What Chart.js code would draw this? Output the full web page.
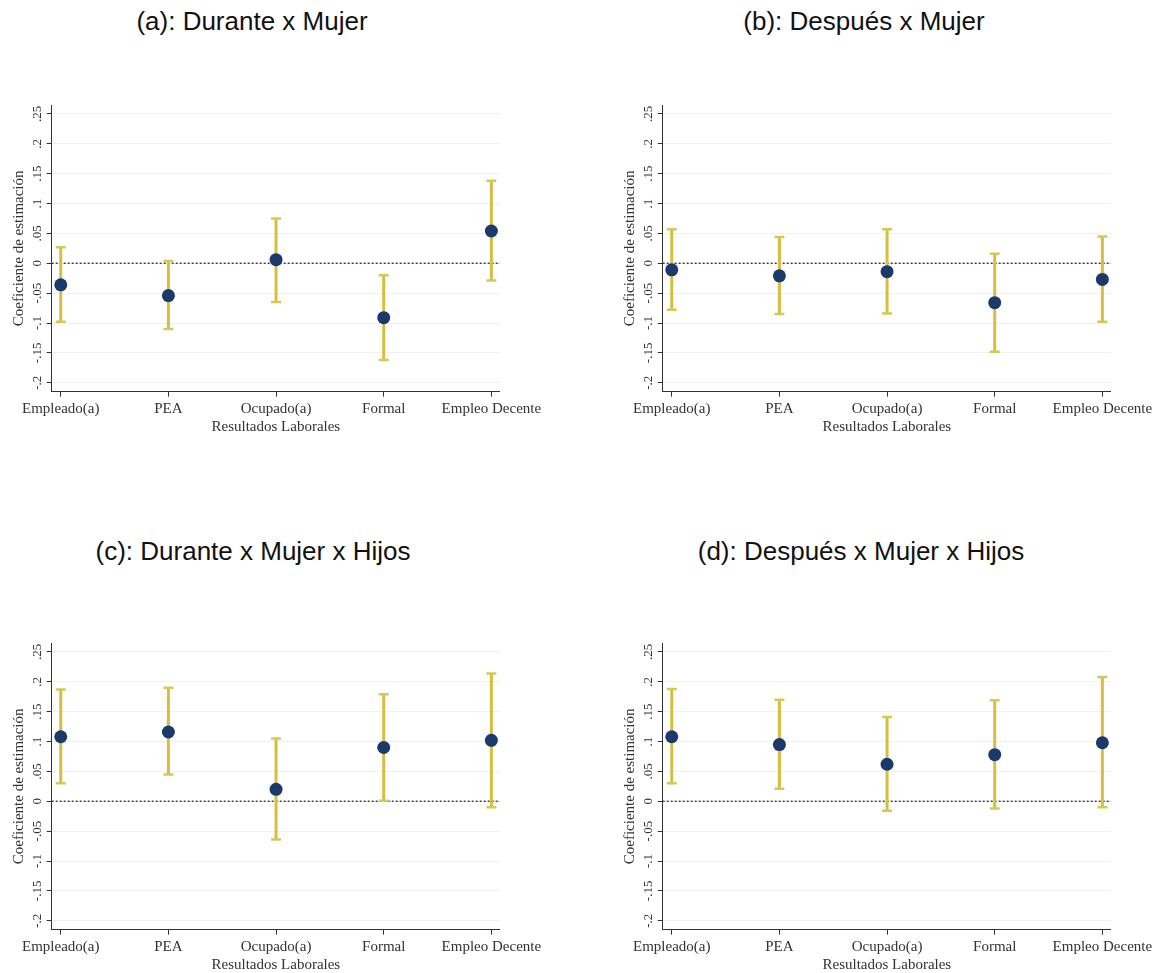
<!DOCTYPE html>
<html>
<head>
<meta charset="utf-8">
<script src="https://cdn.jsdelivr.net/npm/chart.js@4"></script>
<style>
  body { margin: 0; width: 1156px; height: 973px; background: #fff; position: relative; overflow: hidden; }
  .title { position: absolute; font-family: "Liberation Sans", Arial, sans-serif; font-size: 26px; color: #111; white-space: nowrap; transform: translateX(-50%); }
  .panel { position: absolute; width: 545px; height: 350px; }
</style>
</head>
<body>
<div class="title" style="left:252px; top:6px">(a): Durante x Mujer</div>
<div class="title" style="left:864px; top:6px">(b): Después x Mujer</div>
<div class="title" style="left:253px; top:536px">(c): Durante x Mujer x Hijos</div>
<div class="title" style="left:861px; top:536px">(d): Después x Mujer x Hijos</div>

<div class="panel" style="left:0px; top:90px"><canvas id="chartA"></canvas></div>
<div class="panel" style="left:611px; top:90px"><canvas id="chartB"></canvas></div>
<div class="panel" style="left:0px; top:628px"><canvas id="chartC"></canvas></div>
<div class="panel" style="left:611px; top:628px"><canvas id="chartD"></canvas></div>

<script>
// labour outcomes on the x axis
const categories = ['Empleado(a)', 'PEA', 'Ocupado(a)', 'Formal', 'Empleo Decente'];
const yTickValues = [-0.2, -0.15, -0.1, -0.05, 0, 0.05, 0.1, 0.15, 0.2, 0.25];
const yTickLabels = ['-.2', '-.15', '-.1', '-.05', '0', '.05', '.1', '.15', '.2', '.25'];

// (a) Durante x Mujer
const coefA = [-0.036, -0.054, 0.006, -0.091, 0.054];
const lowA  = [-0.098, -0.110, -0.065, -0.162, -0.029];
const highA = [0.027, 0.004, 0.075, -0.020, 0.138];

// (b) Despues x Mujer
const coefB = [-0.011, -0.021, -0.014, -0.066, -0.027];
const lowB  = [-0.078, -0.085, -0.084, -0.148, -0.098];
const highB = [0.057, 0.044, 0.057, 0.016, 0.045];

// (c) Durante x Mujer x Hijos
const coefC = [0.108, 0.116, 0.020, 0.090, 0.102];
const lowC  = [0.030, 0.045, -0.064, 0.001, -0.010];
const highC = [0.187, 0.190, 0.105, 0.179, 0.214];

// (d) Despues x Mujer x Hijos
const coefD = [0.108, 0.095, 0.062, 0.078, 0.098];
const lowD  = [0.030, 0.021, -0.016, -0.012, -0.010];
const highD = [0.188, 0.170, 0.141, 0.169, 0.208];

const serif = '"Liberation Serif", "Times New Roman", serif';
const axisColor = '#333';

// draws the confidence intervals, the dotted zero line and the rotated y labels
const ciPlugin = {
    id: 'ciPlugin',
    beforeDatasetsDraw(chart, args, opts) {
        const ctx = chart.ctx;
        const xs = chart.scales.x;
        const ys = chart.scales.y;
        const area = chart.chartArea;

        // zero line
        ctx.save();
        ctx.strokeStyle = '#444';
        ctx.lineWidth = 1.5;
        ctx.setLineDash([2, 2]);
        ctx.beginPath();
        const y0 = ys.getPixelForValue(0);
        ctx.moveTo(area.left, y0);
        ctx.lineTo(area.right, y0);
        ctx.stroke();
        ctx.restore();

        ctx.save();
        for (let i = 0; i < categories.length; i++) {
            const x = xs.getPixelForValue(i);
            const yLo = ys.getPixelForValue(opts.low[i]);
            const yHi = ys.getPixelForValue(opts.high[i]);
            ctx.strokeStyle = '#d8bd3e';
            ctx.lineWidth = 3;
            ctx.beginPath();
            ctx.moveTo(x, yLo);
            ctx.lineTo(x, yHi);
            ctx.stroke();
            ctx.strokeStyle = '#d3c957';
            ctx.lineWidth = 2.5;
            ctx.beginPath();
            ctx.moveTo(x - 5, yLo);
            ctx.lineTo(x + 5, yLo);
            ctx.moveTo(x - 5, yHi);
            ctx.lineTo(x + 5, yHi);
            ctx.stroke();
        }
        ctx.restore();
    },
    afterDraw(chart) {
        const ctx = chart.ctx;
        const ys = chart.scales.y;
        ctx.save();
        ctx.fillStyle = axisColor;
        ctx.font = '13px ' + serif;
        ctx.textAlign = 'center';
        ctx.textBaseline = 'middle';
        yTickValues.forEach((v, i) => {
            ctx.save();
            ctx.translate(ys.left + 37.5, ys.getPixelForValue(v));
            ctx.rotate(-Math.PI / 2);
            ctx.fillText(yTickLabels[i], 0, 0);
            ctx.restore();
        });
        ctx.restore();
    }
};

function makePanel(id, coef, low, high) {
    const points = coef.map((v, i) => ({x: i, y: v}));
    return new Chart(document.getElementById(id), {
        type: 'scatter',
        data: {
            datasets: [{
                data: points,
                pointRadius: 6.5,
                pointHoverRadius: 6.5,
                backgroundColor: '#1b3a6b',
                borderWidth: 0
            }]
        },
        options: {
            responsive: true,
            maintainAspectRatio: false,
            animation: false,
            layout: { padding: { left: 0, top: 15, right: 45, bottom: 0 } },
            plugins: {
                legend: { display: false },
                tooltip: { enabled: false },
                ciPlugin: { low: low, high: high }
            },
            scales: {
                x: {
                    type: 'linear',
                    min: -0.084,
                    max: 4.08,
                    afterBuildTicks: s => { s.ticks = categories.map((c, i) => ({value: i})); },
                    afterFit: s => { s.height = 48.3; },
                    grid: { display: true, drawOnChartArea: false, tickLength: 5, tickColor: axisColor },
                    border: { display: true, color: axisColor, width: 1 },
                    ticks: {
                        padding: 3,
                        color: axisColor,
                        font: { family: serif, size: 15 },
                        maxRotation: 0,
                        autoSkip: false,
                        callback: v => categories[v]
                    },
                    title: {
                        display: true,
                        text: 'Resultados Laborales',
                        color: axisColor,
                        font: { family: serif, size: 15 },
                        padding: { top: 0, bottom: 4 }
                    }
                },
                y: {
                    min: -0.215,
                    max: 0.265,
                    afterBuildTicks: s => { s.ticks = yTickValues.map(v => ({value: v})); },
                    afterFit: s => { s.width = 51.7; },
                    grid: { color: '#f1f1f1', lineWidth: 1, tickLength: 5, tickColor: axisColor },
                    border: { display: true, color: axisColor, width: 1 },
                    ticks: { display: false },
                    title: {
                        display: true,
                        text: 'Coeficiente de estimación',
                        color: axisColor,
                        font: { family: serif, size: 15 },
                        padding: { top: 10, bottom: 0 }
                    }
                }
            }
        },
        plugins: [ciPlugin]
    });
}

makePanel('chartA', coefA, lowA, highA);
makePanel('chartB', coefB, lowB, highB);
makePanel('chartC', coefC, lowC, highC);
makePanel('chartD', coefD, lowD, highD);
</script>
</body>
</html>
